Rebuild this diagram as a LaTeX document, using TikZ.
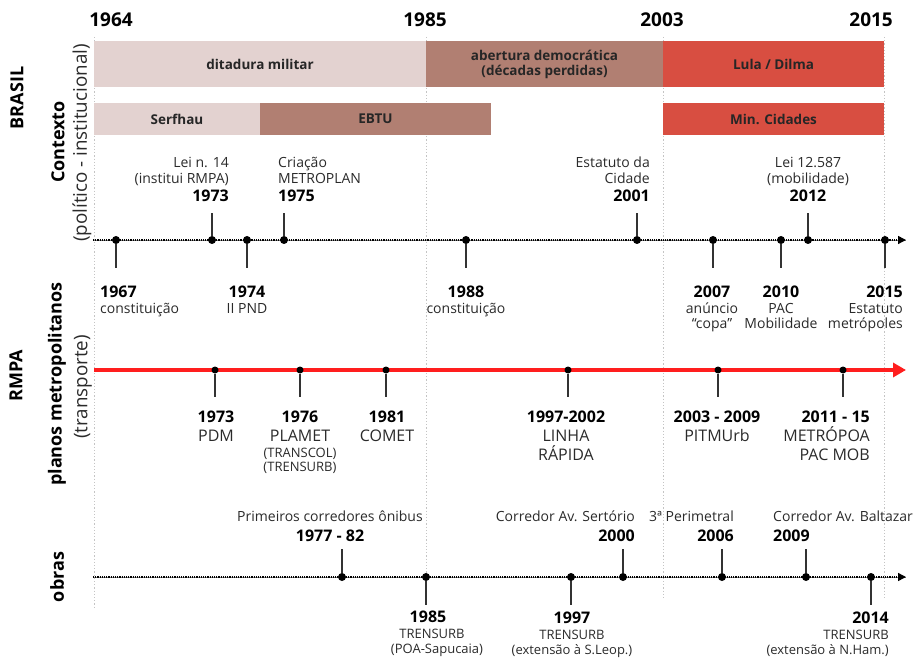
\documentclass[tikz,border=0pt]{standalone}
\usepackage{fontspec}
\setmainfont{Open Sans}
\usetikzlibrary{arrows.meta}
\definecolor{cPink}{HTML}{E3D2D0}
\definecolor{cBrown}{HTML}{B17F72}
\definecolor{cRed}{HTML}{D84E41}
\definecolor{cLine}{HTML}{FF1E1E}
\definecolor{cGrid}{HTML}{C4C4C4}
\definecolor{cTxt}{HTML}{2A2A2A}
\begin{document}
\begin{tikzpicture}[x=1pt,y=-1pt,
  bar/.style={draw=none, inner sep=0, align=center, font=\fontsize{13.5}{15}\selectfont\bfseries, text=black!85},
  gridln/.style={cGrid, line width=0.9pt, dash pattern=on 1.2pt off 2pt},
  axbase/.style={gray, line width=0.7pt},
  axdot/.style={black, line width=1.4pt, dash pattern=on 1.2pt off 1pt},
  redln/.style={cLine, line width=3.5pt},
  dot/.style={circle, fill=black, inner sep=0, minimum size=8pt},
  rdot/.style={circle, fill=black, inner sep=0, minimum size=7pt},
  tck/.style={black!80, line width=1.4pt},
  txt/.style={font=\fontsize{14}{16}\selectfont, text=cTxt, inner sep=0},
  sml/.style={font=\fontsize{13}{14}\selectfont, text=cTxt, inner sep=0},
  pln/.style={font=\fontsize{16}{18}\selectfont, text=cTxt, inner sep=0},
  yrs/.style={font=\fontsize{16}{18}\selectfont\bfseries, text=black, inner sep=0},
  topyr/.style={font=\fontsize{19}{21}\selectfont\bfseries, text=black, inner sep=0},
  side/.style={font=\fontsize{18}{20}\selectfont\bfseries, text=black, inner sep=0, rotate=90},
  sidesub/.style={font=\fontsize{18.8}{20}\selectfont, text=cTxt, inner sep=0, rotate=90}
]
\useasboundingbox (0,0) rectangle (915,660);

% grid lines
\coordinate (g1t) at (94,37);  \coordinate (g1b) at (94,607);
\coordinate (g2t) at (426,37); \coordinate (g2b) at (426,600);
\coordinate (g3t) at (663,37); \coordinate (g3b) at (663,600);
\coordinate (g4t) at (884,37); \coordinate (g4b) at (884,600);
\draw[gridln] (g1t) -- (g1b);
\draw[gridln] (g2t) -- (g2b);
\draw[gridln] (g3t) -- (g3b);
\draw[gridln] (g4t) -- (g4b);

% top years
\node[topyr, anchor=base] (y1964) at (111,27) {1964};
\node[topyr, anchor=base] (y1985) at (425,27) {1985};
\node[topyr, anchor=base] (y2003) at (662,27) {2003};
\node[topyr, anchor=base east] (y2015) at (893,27) {2015};

% bars
\node[bar, fill=cPink, minimum width=332pt, minimum height=46pt] (bDit) at (260,64) {ditadura militar};
\node[bar, fill=cBrown, minimum width=237pt, minimum height=46pt] (bAbe) at (544.5,64) {abertura democrática\\(décadas perdidas)};
\node[bar, fill=cRed, minimum width=221pt, minimum height=46pt] (bLul) at (773.5,64) {Lula / Dilma};
\node[bar, fill=cPink, minimum width=166pt, minimum height=32pt] (bSer) at (177,119) {Serfhau};
\node[bar, fill=cBrown, minimum width=231pt, minimum height=32pt] (bEBT) at (375.5,119) {EBTU};
\node[bar, fill=cRed, minimum width=221pt, minimum height=32pt] (bMin) at (773.5,119) {Min. Cidades};

% side labels
\node[side] (sBR) at (17,98) {BRASIL};
\node[side] (sCtx) at (58,142) {Contexto};
\node[sidesub] (sCtx2) at (82,143) {(político - institucional)};
\node[side] (sRM) at (16,376) {RMPA};
\node[side] (sPl) at (57,384) {planos metropolitanos};
\node[sidesub] (sPl2) at (83,387) {(transporte)};
\node[side] (sOb) at (57,577) {obras};

% ---------- context axis ----------
\coordinate (cS) at (93,240); \coordinate (cE) at (906,240);
\draw[axbase] (cS) -- (cE);
\draw[axdot, -{Triangle[length=8pt,width=8pt]}] (cS) -- (cE);

\node[dot] (c1967) at (116,240) {}; \coordinate (t1967) at (116,268);
\node[dot] (c1973) at (212,240) {}; \coordinate (t1973) at (212,213);
\node[dot] (c1974) at (247,240) {}; \coordinate (t1974) at (247,268);
\node[dot] (c1975) at (284,240) {}; \coordinate (t1975) at (284,213);
\node[dot] (c1988) at (466,240) {}; \coordinate (t1988) at (466,268);
\node[dot] (c2001) at (637,240) {}; \coordinate (t2001) at (637,213);
\node[dot] (c2007) at (713,240) {}; \coordinate (t2007) at (713,268);
\node[dot] (c2010) at (781,240) {}; \coordinate (t2010) at (781,268);
\node[dot] (c2012) at (808,240) {}; \coordinate (t2012) at (808,213);
\node[dot] (c2015) at (885,240) {}; \coordinate (t2015) at (885,268);
\foreach \n in {1967,1973,1974,1975,1988,2001,2007,2010,2012,2015}
  \draw[tck] (c\n) -- (t\n);

\node[txt, anchor=base east] (l73a) at (229,168) {Lei n. 14};
\node[txt, anchor=base east] (l73b) at (229,183.5) {(institui RMPA)};
\node[yrs, anchor=base east] (l73c) at (229,202) {1973};
\node[txt, anchor=base west] (l75a) at (278,168) {Criação};
\node[txt, anchor=base west] (l75b) at (278,183.5) {METROPLAN};
\node[yrs, anchor=base west] (l75c) at (278,202) {1975};
\node[txt, anchor=base east] (l01a) at (650,168) {Estatuto da};
\node[txt, anchor=base east] (l01b) at (650,183.5) {Cidade};
\node[yrs, anchor=base east] (l01c) at (650,202) {2001};
\node[txt, anchor=base] (l12a) at (808,168) {Lei 12.587};
\node[txt, anchor=base] (l12b) at (808,183.5) {(mobilidade)};
\node[yrs, anchor=base] (l12c) at (808,202) {2012};

\node[yrs, anchor=base west] (l67a) at (100,297) {1967};
\node[txt, anchor=base west] (l67b) at (100,313) {constituição};
\node[yrs, anchor=base] (l74a) at (247,297) {1974};
\node[txt, anchor=base] (l74b) at (247,313) {II PND};
\node[yrs, anchor=base] (l88a) at (466,297) {1988};
\node[txt, anchor=base] (l88b) at (466,313) {constituição};
\node[yrs, anchor=base] (l07a) at (712,297) {2007};
\node[txt, anchor=base] (l07b) at (712,313) {anúncio};
\node[txt, anchor=base] (l07c) at (712,328) {“copa”};
\node[yrs, anchor=base] (l10a) at (781,297) {2010};
\node[txt, anchor=base] (l10b) at (781,313) {PAC};
\node[txt, anchor=base] (l10c) at (781,328) {Mobilidade};
\node[yrs, anchor=base east] (l15a) at (903,297) {2015};
\node[txt, anchor=base east] (l15b) at (903,313) {Estatuto};
\node[txt, anchor=base east] (l15c) at (903,328) {metrópoles};

% ---------- planos axis ----------
\coordinate (rS) at (94,370); \coordinate (rE) at (906,370);
\draw[redln, -{Triangle[length=13pt,width=14pt]}] (rS) -- (rE);

\node[rdot] (p1973) at (215,370) {}; \coordinate (q1973) at (215,397);
\node[rdot] (p1976) at (300,370) {}; \coordinate (q1976) at (300,397);
\node[rdot] (p1981) at (386,370) {}; \coordinate (q1981) at (386,397);
\node[rdot] (p1997) at (568,370) {}; \coordinate (q1997) at (568,397);
\node[rdot] (p2003) at (718,370) {}; \coordinate (q2003) at (718,397);
\node[rdot] (p2011) at (843,370) {}; \coordinate (q2011) at (843,397);
\foreach \n in {1973,1976,1981,1997,2003,2011}
  \draw[tck] (p\n) -- (q\n);

\node[yrs, anchor=base] (m73a) at (216,422) {1973};
\node[pln, anchor=base] (m73b) at (216,441) {PDM};
\node[yrs, anchor=base] (m76a) at (300,422) {1976};
\node[pln, anchor=base] (m76b) at (300,441) {PLAMET};
\node[sml, anchor=base] (m76c) at (300,457) {(TRANSCOL)};
\node[sml, anchor=base] (m76d) at (300,471) {(TRENSURB)};
\node[yrs, anchor=base] (m81a) at (387,422) {1981};
\node[pln, anchor=base] (m81b) at (387,441) {COMET};
\node[yrs, anchor=base] (m97a) at (566,422) {1997-2002};
\node[pln, anchor=base] (m97b) at (566,441) {LINHA};
\node[pln, anchor=base] (m97c) at (566,460) {RÁPIDA};
\node[yrs, anchor=base] (m03a) at (717,422) {2003 - 2009};
\node[pln, anchor=base] (m03b) at (717,441) {PITMUrb};
\node[yrs, anchor=base east] (m11a) at (870,422) {2011 - 15};
\node[pln, anchor=base east] (m11b) at (870,441) {METRÓPOA};
\node[pln, anchor=base east] (m11c) at (870,460) {PAC MOB};

% ---------- obras axis ----------
\coordinate (oS) at (93,577); \coordinate (oE) at (906,577);
\draw[axbase] (oS) -- (oE);
\draw[axdot, -{Triangle[length=8pt,width=8pt]}] (oS) -- (oE);

\node[dot] (o1977) at (342,577) {}; \coordinate (u1977) at (342,549);
\node[dot] (o1985) at (426,577) {}; \coordinate (u1985) at (426,605);
\node[dot] (o1997) at (571,577) {}; \coordinate (u1997) at (571,605);
\node[dot] (o2000) at (623,577) {}; \coordinate (u2000) at (623,549);
\node[dot] (o2006) at (722,577) {}; \coordinate (u2006) at (722,549);
\node[dot] (o2009) at (806,577) {}; \coordinate (u2009) at (806,549);
\node[dot] (o2014) at (871,577) {}; \coordinate (u2014) at (871,605);
\foreach \n in {1977,1985,1997,2000,2006,2009,2014}
  \draw[tck] (o\n) -- (u\n);

\node[txt, anchor=base] (n77a) at (330,521) {Primeiros corredores ônibus};
\node[yrs, anchor=base] (n77b) at (330,541) {1977 - 82};
\node[txt, anchor=base east] (n00a) at (635,521) {Corredor Av. Sertório};
\node[yrs, anchor=base east] (n00b) at (635,541) {2000};
\node[txt, anchor=base east] (n06a) at (734,521) {3ª Perimetral};
\node[yrs, anchor=base east] (n06b) at (734,541) {2006};
\node[txt, anchor=base west] (n09a) at (773,521) {Corredor Av. Baltazar};
\node[yrs, anchor=base west] (n09b) at (773,541) {2009};

\node[yrs, anchor=base] (n85a) at (428,622) {1985};
\node[sml, anchor=base] (n85b) at (432,638) {TRENSURB};
\node[sml, anchor=base] (n85c) at (437,653) {(POA-Sapucaia)};
\node[yrs, anchor=base] (n97a) at (572,623) {1997};
\node[sml, anchor=base] (n97b) at (572,639) {TRENSURB};
\node[sml, anchor=base] (n97c) at (572,654) {(extensão à S.Leop.)};
\node[yrs, anchor=base east] (n14a) at (889,623) {2014};
\node[sml, anchor=base east] (n14b) at (889,639) {TRENSURB};
\node[sml, anchor=base east] (n14c) at (889,654) {(extensão à N.Ham.)};
\end{tikzpicture}
\end{document}
